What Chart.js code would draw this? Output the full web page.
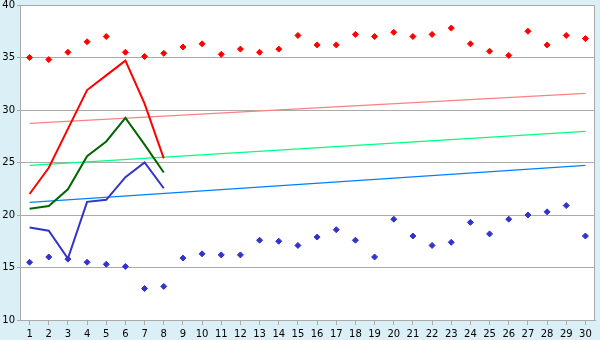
<!DOCTYPE html>
<html>
<head>
<meta charset="utf-8">
<script src="https://cdn.jsdelivr.net/npm/chart.js@4/dist/chart.umd.min.js"></script>
<style>
html,body{margin:0;padding:0;background:#daf0f6;}
#wrap{width:600px;height:340px;}
</style>
</head>
<body>
<div id="wrap"><canvas id="c" width="600" height="340"></canvas></div>
<script>
const days = ['1','2','3','4','5','6','7','8','9','10','11','12','13','14','15','16','17','18','19','20','21','22','23','24','25','26','27','28','29','30'];
const highPoints = [35.0,34.8,35.5,36.5,37.0,35.5,35.1,35.4,36.0,36.3,35.3,35.8,35.5,35.8,37.1,36.2,36.2,37.2,37.0,37.4,37.0,37.2,37.8,36.3,35.6,35.2,37.5,36.2,37.1,36.8];
const lowPoints = [15.5,16.0,15.8,15.5,15.3,15.1,13.0,13.2,15.9,16.3,16.2,16.2,17.6,17.5,17.1,17.9,18.6,17.6,16.0,19.6,18.0,17.1,17.4,19.3,18.2,19.6,20.0,20.3,20.9,18.0];
const redLine = [22.0,24.5,28.2,31.9,33.3,34.7,30.6,25.4];
const greenLine = [20.6,20.85,22.45,25.6,27.0,29.25,26.7,24.05];
const blueLine = [18.8,18.5,15.85,21.25,21.45,23.6,25.0,22.55];
const redTrend = [28.73, 31.59];
const greenTrend = [24.73, 27.97];
const blueTrend = [21.21, 24.73];
const yTicks = [10,15,20,25,30,35,40];

const trendData = (t) => [{x: days[0], y: t[0]}, {x: days[days.length-1], y: t[1]}];

const bgPlugin = {
  id: 'bg',
  beforeDraw(chart) {
    const {ctx, chartArea: a} = chart;
    ctx.save();
    ctx.fillStyle = '#daf0f6';
    ctx.fillRect(0, 0, chart.width, chart.height);
    ctx.fillStyle = '#ffffff';
    ctx.fillRect(a.left, a.top, a.right - a.left, a.bottom - a.top);
    ctx.restore();
  },
  afterDraw(chart) {
    const {ctx, chartArea: a} = chart;
    ctx.save();
    ctx.strokeStyle = '#aaaaaa';
    ctx.lineWidth = 1;
    ctx.beginPath();
    ctx.moveTo(Math.round(a.right) - 0.5, a.top);
    ctx.lineTo(Math.round(a.right) - 0.5, a.bottom);
    ctx.stroke();
    ctx.restore();
  }
};

const font = {family: 'DejaVu Sans', size: 10};

new Chart(document.getElementById('c'), {
  type: 'line',
  data: {
    labels: days,
    datasets: [
      {data: trendData(redTrend), borderColor: '#ff8080', borderWidth: 1.2, pointRadius: 0, order: 5},
      {data: trendData(greenTrend), borderColor: '#00ff80', borderWidth: 1.2, pointRadius: 0, order: 5},
      {data: trendData(blueTrend), borderColor: '#0080ff', borderWidth: 1.2, pointRadius: 0, order: 5},
      {data: redLine, borderColor: '#ff0000', borderWidth: 2, pointRadius: 0, order: 2},
      {data: greenLine, borderColor: '#006600', borderWidth: 2, pointRadius: 0, order: 2},
      {data: blueLine, borderColor: '#3333cc', borderWidth: 2, pointRadius: 0, order: 2},
      {data: highPoints, showLine: false, pointStyle: 'rectRot', pointRadius: 3, pointBorderWidth: 1, pointBackgroundColor: '#ff0000', pointBorderColor: '#ff0000', order: 1},
      {data: lowPoints, showLine: false, pointStyle: 'rectRot', pointRadius: 3, pointBorderWidth: 1, pointBackgroundColor: '#3333cc', pointBorderColor: '#3333cc', order: 1}
    ]
  },
  options: {
    responsive: false,
    animation: false,
    layout: {padding: {top: 5, right: 5, left: 0, bottom: 0}},
    plugins: {legend: {display: false}, tooltip: {enabled: false}},
    elements: {line: {tension: 0}},
    scales: {
      x: {
        type: 'category',
        offset: true,
        grid: {display: true, offset: false, drawOnChartArea: false, drawTicks: true, tickLength: 5, color: '#aaaaaa'},
        border: {display: true, color: '#aaaaaa'},
        ticks: {color: '#000', font: font, padding: 3, maxRotation: 0, autoSkip: false},
        afterFit(s) { s.height = 20; s.paddingLeft = 0; s.paddingRight = 0; }
      },
      y: {
        min: 10, max: 40,
        afterBuildTicks(s) { s.ticks = yTicks.map(v => ({value: v})); },
        grid: {color: '#aaaaaa', tickLength: 3, drawTicks: true},
        border: {display: true, color: '#aaaaaa'},
        ticks: {color: '#000', font: font, padding: 2},
        afterFit(s) { s.width = 20; s.paddingTop = 0; s.paddingBottom = 0; }
      }
    }
  },
  plugins: [bgPlugin]
});
</script>
</body>
</html>
